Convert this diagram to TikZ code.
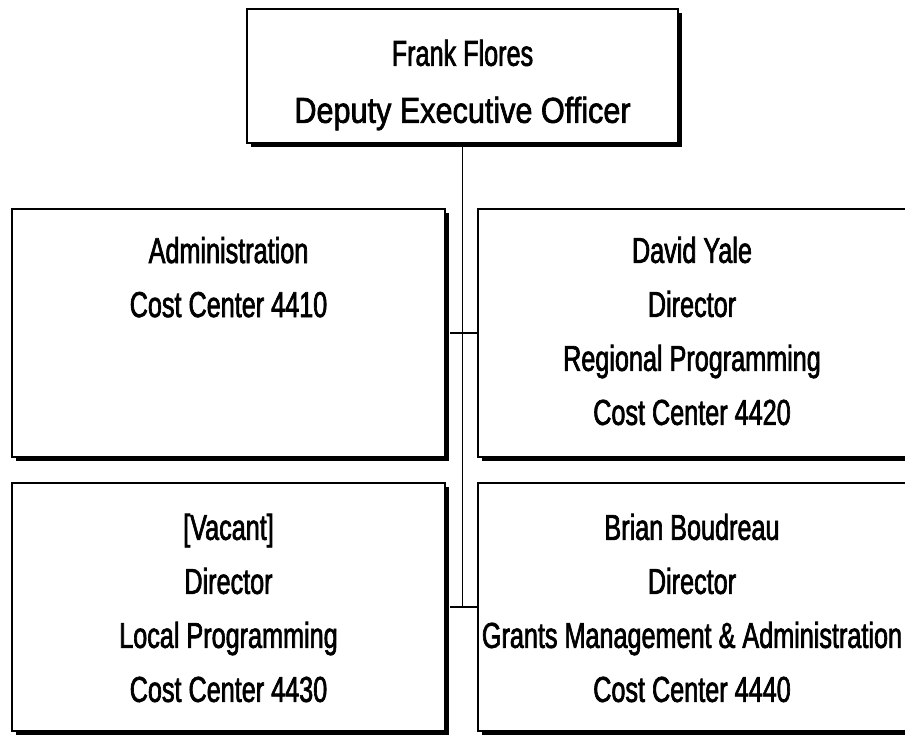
\documentclass[tikz,border=0pt]{standalone}
\usepackage{fontspec}
\setmainfont[FakeStretch=0.70,FakeBold=1.8]{Liberation Sans}
\newfontfamily\widerfont[FakeStretch=0.85,FakeBold=1.8]{Liberation Sans}
\begin{document}
\begin{tikzpicture}[x=1pt,y=-1pt,
  box/.style={draw=black, line width=2pt, fill=white, inner sep=0pt,
    preaction={fill=black, transform canvas={shift={(4pt,-4pt)}}}},
  lbl/.style={align=center, inner sep=0pt, font=\fontsize{36pt}{54pt}\selectfont},
  toplbl/.style={align=center, inner sep=0pt, font=\fontsize{36pt}{57pt}\selectfont},
  conn/.style={draw=black, line width=1.8pt}]
\useasboundingbox (0,0) rectangle (905,734);
\clip (0,0) rectangle (905,734);
% boxes
\node[box, minimum width=431pt, minimum height=134pt] (top) at (462.5,76) {};
\node[box, minimum width=433pt, minimum height=248pt] (adm) at (228.5,333) {};
\node[box, minimum width=428pt, minimum height=248pt] (yale) at (692,333) {};
\node[box, minimum width=433pt, minimum height=248pt] (vac) at (228.5,607) {};
\node[box, minimum width=428pt, minimum height=248pt] (brian) at (692,607) {};
% texts
\node[toplbl] (ttop) at ([yshift=-9pt]top.center) {Frank Flores\\{\widerfont Deputy Executive Officer}};
\node[lbl] (tadm) at ([yshift=2pt]adm.center) {Administration\\Cost Center 4410\\\mbox{}\\\mbox{}};
\node[lbl] (tyale) at ([yshift=2pt]yale.center) {David Yale\\Director\\Regional Programming\\Cost Center 4420};
\node[lbl] (tvac) at ([yshift=-1pt]vac.center) {[Vacant]\\Director\\Local Programming\\Cost Center 4430};
\node[lbl] (tbrian) at ([yshift=-1pt]brian.center) {Brian Boudreau\\Director\\Grants Management \& Administration\\Cost Center 4440};
% connectors
\coordinate (spineend) at (top.south |- vac.east);
\draw[conn] (top.south) -- (spineend);
\draw[conn] ([xshift=4pt]adm.east) -- (yale.west);
\draw[conn] ([xshift=4pt]vac.east) -- (brian.west);
\end{tikzpicture}
\end{document}
